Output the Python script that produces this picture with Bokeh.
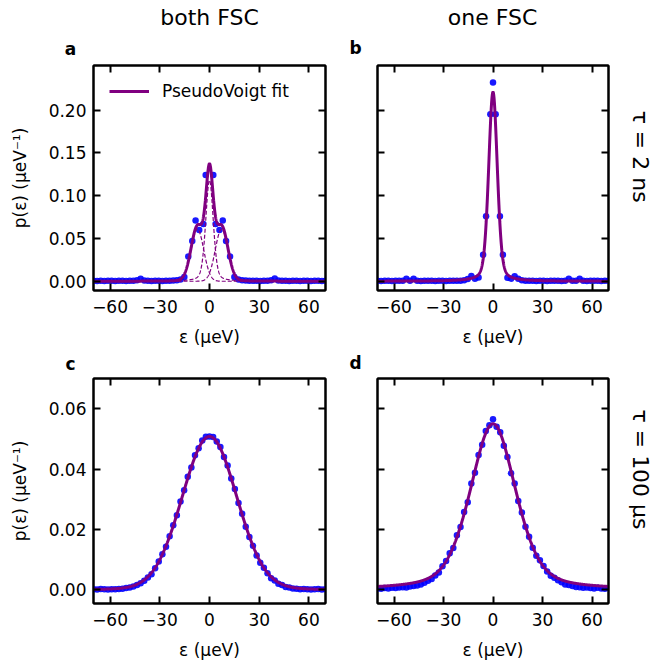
import numpy as np
from bokeh.plotting import figure
from bokeh.layouts import column, row
from bokeh.models import FixedTicker, LinearAxis, Range1d
from bokeh.core.properties import value
from bokeh.embed import file_html
from bokeh.resources import INLINE

FONT = "DejaVu Sans"
PURPLE = "#800080"
BLUE = "#0000ff"

# ---------------- data ----------------
# histogram bin centres (µeV)
eps_grid = np.linspace(-70, 70, 65)

x_ticks = [-60, -30, 0, 30, 60]
x_tick_labels = ["\u221260", "\u221230", "0", "30", "60"]
y_ticks_top = [0.0, 0.05, 0.10, 0.15, 0.20]
y_tick_labels_top = ["0.00", "0.05", "0.10", "0.15", "0.20"]
y_ticks_bot = [0.0, 0.02, 0.04, 0.06]
y_tick_labels_bot = ["0.00", "0.02", "0.04", "0.06"]

col_titles = ["both FSC", "one FSC"]
row_titles = ["\u03c4 = 2 ns", "\u03c4 = 100 \u03bcs"]
panel_letters = ["a", "b", "c", "d"]

# panel a : both FSC, tau = 2 ns
a_tail_left_y = [0.0005, 0.0003, 0.0006, 0.0004, 0.0005, 0.0007, 0.0004, 0.0006, 0.0005,
                 0.0004, 0.0006, 0.0005, 0.0012, 0.0030, 0.0008, 0.0005, 0.0004, 0.0006,
                 0.0005, 0.0004, 0.0007, 0.0006, 0.0009, 0.0012, 0.0020]
a_core_x = [-15.2, -12.8, -10.4, -8.4, -6.2, -3.7, -2.3, 2.3, 3.7, 6.0, 8.0, 10.0, 12.4, 15.0]
a_core_y = [0.005, 0.029, 0.047, 0.071, 0.060, 0.067, 0.124, 0.124, 0.067, 0.060, 0.071,
            0.047, 0.029, 0.005]
a_tail_right_y = [0.0021, 0.0011, 0.0008, 0.0006, 0.0005, 0.0007, 0.0004, 0.0006, 0.0005,
                  0.0012, 0.0031, 0.0009, 0.0005, 0.0006, 0.0004, 0.0005, 0.0007, 0.0004,
                  0.0006, 0.0005, 0.0004, 0.0006, 0.0005, 0.0004, 0.0005]
fit_a_centers = [-7.3, 0.0, 7.3]
fit_a_heights = [0.061, 0.118, 0.061]
fit_a_fwhm = [8.95, 5.4, 8.95]
fit_a_eta = [0.0, 0.3, 0.0]

# panel b : one FSC, tau = 2 ns
b_tail_left_y = [0.0005, 0.0004, 0.0006, 0.0005, 0.0004, 0.0006, 0.0005, 0.0007, 0.0030,
                 0.0006, 0.0028, 0.0005, 0.0004, 0.0006, 0.0005, 0.0007, 0.0004, 0.0006,
                 0.0005, 0.0004, 0.0006, 0.0005, 0.0007, 0.0006, 0.0012, 0.0025, 0.0060,
                 0.0030, 0.0045]
b_core_x = [-6.0, -4.2, -1.6, 0.0, 1.6, 4.2, 6.0]
b_core_y = [0.031, 0.076, 0.195, 0.232, 0.195, 0.076, 0.031]
b_tail_right_y = [0.0040, 0.0030, 0.0058, 0.0028, 0.0012, 0.0006, 0.0005, 0.0007, 0.0004,
                  0.0006, 0.0005, 0.0004, 0.0006, 0.0005, 0.0007, 0.0004, 0.0006, 0.0028,
                  0.0005, 0.0006, 0.0030, 0.0005, 0.0004, 0.0006, 0.0005, 0.0007, 0.0004,
                  0.0006, 0.0005]
fit_b = dict(center=0.0, height=0.221, fwhm=6.2, eta=0.3)

# panel c : both FSC, tau = 100 us
c_y = [0.0002, 0.0001, 0.0003, 0.0002, 0.0001, 0.0002, 0.0002, 0.0003, 0.0004, 0.0006,
       0.0008, 0.0011, 0.0016, 0.0022, 0.0030, 0.0041, 0.0052, 0.0072, 0.0094, 0.0118,
       0.0143, 0.0178, 0.0214, 0.0247, 0.0293, 0.0330, 0.0375, 0.0405, 0.0446, 0.0469,
       0.0495, 0.0507, 0.0508,
       0.0506, 0.0491, 0.0473, 0.0440, 0.0412, 0.0369, 0.0334, 0.0288, 0.0252, 0.0209,
       0.0175, 0.0146, 0.0114, 0.0090, 0.0073, 0.0055, 0.0039, 0.0031, 0.0020, 0.0016,
       0.0010, 0.0008, 0.0005, 0.0004, 0.0002, 0.0003, 0.0002, 0.0001, 0.0002, 0.0003,
       0.0001, 0.0002]
fit_c = dict(center=0.0, height=0.0508, fwhm=38.9, eta=0.05)

# panel d : one FSC, tau = 100 us
d_y = [0.0005, 0.0004, 0.0006, 0.0005, 0.0007, 0.0006, 0.0008, 0.0009, 0.0008, 0.0011,
       0.0013, 0.0015, 0.0018, 0.0024, 0.0030, 0.0036, 0.0048, 0.0058, 0.0078, 0.0096,
       0.0121, 0.0139, 0.0181, 0.0208, 0.0258, 0.0290, 0.0352, 0.0388, 0.0447, 0.0481,
       0.0526, 0.0545, 0.0565,
       0.0540, 0.0522, 0.0477, 0.0440, 0.0386, 0.0352, 0.0294, 0.0256, 0.0209, 0.0176,
       0.0140, 0.0113, 0.0098, 0.0079, 0.0061, 0.0047, 0.0040, 0.0032, 0.0025, 0.0018,
       0.0016, 0.0013, 0.0010, 0.0009, 0.0007, 0.0008, 0.0006, 0.0005, 0.0007, 0.0005,
       0.0004, 0.0006]
fit_d = dict(center=0.0, height=0.055, fwhm=32.7, eta=0.4)

# ---------------- model ----------------
x_fit = np.linspace(-70, 70, 1401)


def pseudo_voigt(x, center, height, fwhm, eta):
    sig = fwhm / (2.0 * np.sqrt(2.0 * np.log(2.0)))
    gam = fwhm / 2.0
    g = np.exp(-((x - center) ** 2) / (2.0 * sig ** 2))
    l = 1.0 / (1.0 + ((x - center) / gam) ** 2)
    return height * ((1.0 - eta) * g + eta * l)


a_x = list(eps_grid[:25]) + a_core_x + list(eps_grid[40:])
a_y = a_tail_left_y + a_core_y + a_tail_right_y
b_x = list(eps_grid[:29]) + b_core_x + list(eps_grid[36:])
b_y = b_tail_left_y + b_core_y + b_tail_right_y

a_components = [pseudo_voigt(x_fit, c, h, w, e)
                for c, h, w, e in zip(fit_a_centers, fit_a_heights, fit_a_fwhm, fit_a_eta)]
a_fit = sum(a_components)
b_fit = pseudo_voigt(x_fit, **fit_b)
c_fit = pseudo_voigt(x_fit, **fit_c)
d_fit = pseudo_voigt(x_fit, **fit_d)

# ---------------- figures ----------------
FS = "17px"


def style_axis(ax, ticks, labels=None, show_labels=True):
    ax.ticker = FixedTicker(ticks=ticks)
    if labels is not None:
        ax.major_label_overrides = {t: s for t, s in zip(ticks, labels)}
    ax.major_tick_in = 7
    ax.major_tick_out = 0
    ax.major_tick_line_width = 2
    ax.major_tick_line_color = "black"
    ax.minor_tick_line_color = None
    ax.axis_line_width = 2
    ax.axis_line_color = "black"
    ax.major_label_text_font = FONT
    ax.axis_label_text_font = FONT
    ax.axis_label_text_font_style = "normal"
    ax.axis_label_text_font_size = FS
    ax.axis_label_text_color = "black"
    if show_labels:
        ax.major_label_text_font_size = FS
        ax.major_label_text_color = "black"
    else:
        ax.major_label_text_font_size = "0px"
        ax.major_label_text_color = None
        ax.major_label_standoff = 0


def make_fig(width, height, bl, br, bt, bb, yr, yticks, ylabels, left_labels):
    p = figure(width=width, height=height, x_range=Range1d(-70, 70), y_range=Range1d(*yr),
               output_backend="svg", toolbar_location=None, title_location=None,
               min_border_left=bl, min_border_right=br, min_border_top=bt, min_border_bottom=bb)
    p.grid.visible = False
    p.outline_line_color = "black"
    p.outline_line_width = 2
    p.background_fill_color = "white"
    p.border_fill_color = "white"
    xa = p.xaxis[0]
    style_axis(xa, x_ticks, x_tick_labels, True)
    xa.axis_label = "\u03b5 (\u03bceV)"
    xa.major_label_standoff = 9
    xa.axis_label_standoff = 11
    ya = p.yaxis[0]
    style_axis(ya, yticks, ylabels, left_labels)
    if left_labels:
        ya.axis_label = "p(\u03b5) (\u03bceV\u207b\u00b9)"
        ya.major_label_standoff = 7
        ya.axis_label_standoff = 16
    top = LinearAxis()
    style_axis(top, x_ticks, None, False)
    p.add_layout(top, "above")
    right = LinearAxis()
    style_axis(right, yticks, None, False)
    p.add_layout(right, "right")
    return p


def make_strip(width, height):
    s = figure(width=width, height=height, x_range=Range1d(0, width), y_range=Range1d(0, height),
               output_backend="svg", toolbar_location=None, title_location=None,
               x_axis_type=None, y_axis_type=None, min_border=0)
    s.grid.visible = False
    s.outline_line_color = None
    s.background_fill_color = "white"
    s.border_fill_color = "white"
    return s


def strip_text(s, x, y, text, size, bold=False, angle=0.0):
    s.text(x=[x], y=[y], text=[text], text_font=value(FONT), text_font_size=value(size),
           text_font_style="bold" if bold else "normal", text_align="center",
           text_baseline="middle", angle=angle, text_color="black")


YR_TOP = (-0.0108, 0.2520)
YR_BOT = (-0.0045, 0.0700)

# header strip (column titles + letters a, b)
h1 = make_strip(654, 60)
strip_text(h1, 209, 43, col_titles[0], "22px")
strip_text(h1, 492, 43, col_titles[1], "22px")
strip_text(h1, 70, 12, panel_letters[0], FS, bold=True)
strip_text(h1, 355, 13, panel_letters[1], FS, bold=True)

fa = make_fig(350, 290, 93, 25, 5, 60, YR_TOP, y_ticks_top, y_tick_labels_top, True)
fb = make_fig(264, 290, 27, 6, 5, 60, YR_TOP, y_ticks_top, y_tick_labels_top, False)
r1 = make_strip(40, 290)
strip_text(r1, 26, 172.5, row_titles[0], "22px", angle=-np.pi / 2)

# middle strip (letters c, d)
h2 = make_strip(654, 24)
strip_text(h2, 70, 11, panel_letters[2], FS, bold=True)
strip_text(h2, 355, 12, panel_letters[3], FS, bold=True)

fc = make_fig(350, 288, 93, 25, 4, 59, YR_BOT, y_ticks_bot, y_tick_labels_bot, True)
fd = make_fig(264, 288, 27, 6, 4, 59, YR_BOT, y_ticks_bot, y_tick_labels_bot, False)
r2 = make_strip(40, 288)
strip_text(r2, 26, 171.5, row_titles[1], "22px", angle=-np.pi / 2)

# panel a
fa.scatter(a_x, a_y, size=6.5, fill_color=BLUE, line_color=None, fill_alpha=0.9)
for comp in a_components:
    fa.line(x_fit, comp, line_color=PURPLE, line_width=1.2, line_dash="4 2")
fa.line(x_fit, a_fit, line_color=PURPLE, line_width=3, legend_label="PseudoVoigt fit")
fa.legend.location = "top_left"
fa.legend.border_line_color = None
fa.legend.background_fill_alpha = 0
fa.legend.margin = 16
fa.legend.padding = 11
fa.legend.glyph_width = 40
fa.legend.glyph_height = 20
fa.legend.label_standoff = 13
fa.legend.label_text_font = FONT
fa.legend.label_text_font_size = FS
fa.legend.label_text_color = "black"

# panel b
fb.scatter(b_x, b_y, size=6.5, fill_color=BLUE, line_color=None, fill_alpha=0.9)
fb.line(x_fit, b_fit, line_color=PURPLE, line_width=3)

# panel c
fc.scatter(eps_grid, c_y, size=6.5, fill_color=BLUE, line_color=None, fill_alpha=0.9)
fc.line(x_fit, c_fit, line_color=PURPLE, line_width=3)

# panel d
fd.scatter(eps_grid, d_y, size=6.5, fill_color=BLUE, line_color=None, fill_alpha=0.9)
fd.line(x_fit, d_fit, line_color=PURPLE, line_width=3)

layout = column(h1, row(fa, fb, r1, spacing=0), h2, row(fc, fd, r2, spacing=0), spacing=0)

open("out.html", "w").write(file_html(layout, INLINE))
